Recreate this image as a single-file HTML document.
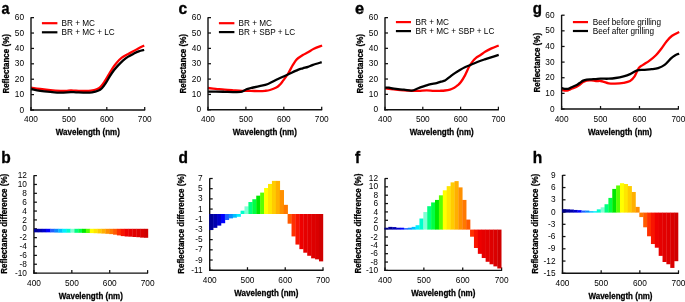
<!DOCTYPE html><html><head><meta charset="utf-8"><style>html,body{margin:0;padding:0;background:#fff;}svg{display:block;will-change:transform;}text{font-family:"Liberation Sans", sans-serif;fill:#000;}</style></head><body>
<svg width="685" height="302" viewBox="0 0 685 302">
<rect width="685" height="302" fill="#fff"/>
<path d="M31.00 87.70 C32.53 87.92 36.97 88.58 40.20 89.00 C43.43 89.42 47.00 89.88 50.40 90.20 C53.80 90.52 58.00 90.78 60.60 90.90 C63.20 91.02 64.28 90.97 66.00 90.90 C67.72 90.83 69.23 90.53 70.90 90.50 C72.57 90.47 73.45 90.62 76.00 90.70 C78.55 90.78 83.70 91.02 86.20 91.00 C88.70 90.98 89.27 90.90 91.00 90.60 C92.73 90.30 95.00 89.83 96.60 89.20 C98.20 88.57 99.27 88.08 100.60 86.80 C101.93 85.52 103.27 83.48 104.60 81.50 C105.93 79.52 107.28 77.10 108.60 74.90 C109.92 72.70 111.18 70.28 112.50 68.30 C113.82 66.32 114.95 64.77 116.50 63.00 C118.05 61.23 119.92 59.17 121.80 57.70 C123.68 56.23 125.88 55.27 127.80 54.20 C129.72 53.13 131.48 52.30 133.30 51.30 C135.12 50.30 136.88 49.17 138.70 48.20 C140.52 47.23 143.28 45.95 144.20 45.50" fill="none" stroke="#ff0000" stroke-width="2.30" stroke-linejoin="round" stroke-linecap="butt"/>
<path d="M31.00 89.00 C32.53 89.30 36.97 90.32 40.20 90.80 C43.43 91.28 47.00 91.60 50.40 91.90 C53.80 92.20 57.18 92.57 60.60 92.60 C64.02 92.63 68.33 92.15 70.90 92.10 C73.47 92.05 73.45 92.22 76.00 92.30 C78.55 92.38 83.53 92.60 86.20 92.60 C88.87 92.60 90.03 92.60 92.00 92.30 C93.97 92.00 96.35 91.48 98.00 90.80 C99.65 90.12 100.58 89.52 101.90 88.20 C103.22 86.88 104.57 84.90 105.90 82.90 C107.23 80.90 108.57 78.30 109.90 76.20 C111.23 74.10 112.57 72.07 113.90 70.30 C115.23 68.53 116.35 67.27 117.90 65.60 C119.45 63.93 121.55 61.75 123.20 60.30 C124.85 58.85 126.12 57.97 127.80 56.90 C129.48 55.83 131.48 54.82 133.30 53.90 C135.12 52.98 136.88 52.05 138.70 51.40 C140.52 50.75 143.28 50.23 144.20 50.00" fill="none" stroke="#000000" stroke-width="2.30" stroke-linejoin="round" stroke-linecap="butt"/>
<line x1="31.00" y1="17.35" x2="31.00" y2="110.70" stroke="#111" stroke-width="1.40"/>
<line x1="30.30" y1="110.00" x2="145.20" y2="110.00" stroke="#111" stroke-width="1.40"/>
<line x1="31.00" y1="17.65" x2="34.00" y2="17.65" stroke="#111" stroke-width="1.25"/>
<text x="24.00" y="20.25" text-anchor="end" font-size="8.3">60</text>
<line x1="31.00" y1="33.04" x2="34.00" y2="33.04" stroke="#111" stroke-width="1.25"/>
<text x="24.00" y="35.64" text-anchor="end" font-size="8.3">50</text>
<line x1="31.00" y1="48.43" x2="34.00" y2="48.43" stroke="#111" stroke-width="1.25"/>
<text x="24.00" y="51.03" text-anchor="end" font-size="8.3">40</text>
<line x1="31.00" y1="63.82" x2="34.00" y2="63.82" stroke="#111" stroke-width="1.25"/>
<text x="24.00" y="66.42" text-anchor="end" font-size="8.3">30</text>
<line x1="31.00" y1="79.22" x2="34.00" y2="79.22" stroke="#111" stroke-width="1.25"/>
<text x="24.00" y="81.82" text-anchor="end" font-size="8.3">20</text>
<line x1="31.00" y1="94.61" x2="34.00" y2="94.61" stroke="#111" stroke-width="1.25"/>
<text x="24.00" y="97.21" text-anchor="end" font-size="8.3">10</text>
<line x1="31.00" y1="110.00" x2="34.00" y2="110.00" stroke="#111" stroke-width="1.25"/>
<text x="24.00" y="112.60" text-anchor="end" font-size="8.3">0</text>
<line x1="31.00" y1="110.00" x2="31.00" y2="107.00" stroke="#111" stroke-width="1.25"/>
<text x="31.00" y="121.90" text-anchor="middle" font-size="8.3">400</text>
<line x1="68.90" y1="110.00" x2="68.90" y2="107.00" stroke="#111" stroke-width="1.25"/>
<text x="68.90" y="121.90" text-anchor="middle" font-size="8.3">500</text>
<line x1="106.80" y1="110.00" x2="106.80" y2="107.00" stroke="#111" stroke-width="1.25"/>
<text x="106.80" y="121.90" text-anchor="middle" font-size="8.3">600</text>
<line x1="144.70" y1="110.00" x2="144.70" y2="107.00" stroke="#111" stroke-width="1.25"/>
<text x="144.70" y="121.90" text-anchor="middle" font-size="8.3">700</text>
<text transform="translate(87.85 135.00) scale(1 1.050)" text-anchor="middle" font-size="8" font-weight="bold" stroke="#000" stroke-width="0.25">Wavelength (nm)</text>
<text transform="translate(9.40 63.85) rotate(-90) scale(1 1.120)" x="0" y="0" text-anchor="middle" font-size="8" font-weight="bold" stroke="#000" stroke-width="0.25">Reflectance (%)</text>
<text transform="translate(1.50 13.60) scale(0.900 1)" font-size="16.0" font-weight="bold" stroke="#000" stroke-width="0.35">a</text>
<line x1="41.90" y1="23.20" x2="57.40" y2="23.20" stroke="#ff0000" stroke-width="2.2"/>
<line x1="41.90" y1="32.30" x2="57.40" y2="32.30" stroke="#000" stroke-width="2.2"/>
<text x="61.50" y="25.90" font-size="8.2">BR + MC</text>
<text x="61.50" y="35.00" font-size="8.2">BR + MC + LC</text>
<path d="M207.90 88.00 C209.22 88.13 213.03 88.52 215.80 88.80 C218.57 89.08 221.58 89.45 224.50 89.70 C227.42 89.95 230.38 90.12 233.30 90.30 C236.22 90.48 239.08 90.70 242.00 90.80 C244.92 90.90 247.88 90.85 250.80 90.90 C253.72 90.95 257.13 91.12 259.50 91.10 C261.87 91.08 263.25 90.98 265.00 90.80 C266.75 90.62 268.12 90.53 270.00 90.00 C271.88 89.47 274.67 88.47 276.30 87.60 C277.93 86.73 278.70 85.92 279.80 84.80 C280.90 83.68 281.55 82.70 282.90 80.90 C284.25 79.10 286.23 76.67 287.90 74.00 C289.57 71.33 291.38 67.38 292.90 64.90 C294.42 62.42 295.35 60.75 297.00 59.10 C298.65 57.45 300.97 56.13 302.80 55.00 C304.63 53.87 306.15 53.33 308.00 52.30 C309.85 51.27 311.55 49.93 313.90 48.80 C316.25 47.67 320.73 46.05 322.10 45.50" fill="none" stroke="#ff0000" stroke-width="2.30" stroke-linejoin="round" stroke-linecap="butt"/>
<path d="M207.90 91.60 C209.22 91.60 213.03 91.57 215.80 91.60 C218.57 91.63 221.58 91.72 224.50 91.80 C227.42 91.88 230.38 92.13 233.30 92.10 C236.22 92.07 239.82 92.08 242.00 91.60 C244.18 91.12 244.93 89.80 246.40 89.20 C247.87 88.60 248.62 88.50 250.80 88.00 C252.98 87.50 256.63 86.87 259.50 86.20 C262.37 85.53 264.92 85.20 268.00 84.00 C271.08 82.80 274.68 80.58 278.00 79.00 C281.32 77.42 284.58 76.02 287.90 74.50 C291.22 72.98 295.42 70.93 297.90 69.90 C300.38 68.87 301.12 68.82 302.80 68.30 C304.48 67.78 306.30 67.37 308.00 66.80 C309.70 66.23 310.72 65.67 313.00 64.90 C315.28 64.13 320.25 62.65 321.70 62.20" fill="none" stroke="#000000" stroke-width="2.30" stroke-linejoin="round" stroke-linecap="butt"/>
<line x1="208.00" y1="17.35" x2="208.00" y2="110.50" stroke="#111" stroke-width="1.40"/>
<line x1="207.30" y1="109.80" x2="322.20" y2="109.80" stroke="#111" stroke-width="1.40"/>
<line x1="208.00" y1="17.65" x2="211.00" y2="17.65" stroke="#111" stroke-width="1.25"/>
<text x="201.00" y="20.25" text-anchor="end" font-size="8.3">60</text>
<line x1="208.00" y1="33.01" x2="211.00" y2="33.01" stroke="#111" stroke-width="1.25"/>
<text x="201.00" y="35.61" text-anchor="end" font-size="8.3">50</text>
<line x1="208.00" y1="48.37" x2="211.00" y2="48.37" stroke="#111" stroke-width="1.25"/>
<text x="201.00" y="50.97" text-anchor="end" font-size="8.3">40</text>
<line x1="208.00" y1="63.73" x2="211.00" y2="63.73" stroke="#111" stroke-width="1.25"/>
<text x="201.00" y="66.33" text-anchor="end" font-size="8.3">30</text>
<line x1="208.00" y1="79.08" x2="211.00" y2="79.08" stroke="#111" stroke-width="1.25"/>
<text x="201.00" y="81.68" text-anchor="end" font-size="8.3">20</text>
<line x1="208.00" y1="94.44" x2="211.00" y2="94.44" stroke="#111" stroke-width="1.25"/>
<text x="201.00" y="97.04" text-anchor="end" font-size="8.3">10</text>
<line x1="208.00" y1="109.80" x2="211.00" y2="109.80" stroke="#111" stroke-width="1.25"/>
<text x="201.00" y="112.40" text-anchor="end" font-size="8.3">0</text>
<line x1="208.00" y1="109.80" x2="208.00" y2="106.80" stroke="#111" stroke-width="1.25"/>
<text x="208.00" y="121.80" text-anchor="middle" font-size="8.3">400</text>
<line x1="245.90" y1="109.80" x2="245.90" y2="106.80" stroke="#111" stroke-width="1.25"/>
<text x="245.90" y="121.80" text-anchor="middle" font-size="8.3">500</text>
<line x1="283.80" y1="109.80" x2="283.80" y2="106.80" stroke="#111" stroke-width="1.25"/>
<text x="283.80" y="121.80" text-anchor="middle" font-size="8.3">600</text>
<line x1="321.70" y1="109.80" x2="321.70" y2="106.80" stroke="#111" stroke-width="1.25"/>
<text x="321.70" y="121.80" text-anchor="middle" font-size="8.3">700</text>
<text transform="translate(264.85 134.90) scale(1 1.050)" text-anchor="middle" font-size="8" font-weight="bold" stroke="#000" stroke-width="0.25">Wavelength (nm)</text>
<text transform="translate(185.90 63.80) rotate(-90) scale(1 1.120)" x="0" y="0" text-anchor="middle" font-size="8" font-weight="bold" stroke="#000" stroke-width="0.25">Reflectance (%)</text>
<text transform="translate(178.40 13.60) scale(0.970 1)" font-size="16.0" font-weight="bold" stroke="#000" stroke-width="0.35">c</text>
<line x1="218.90" y1="23.20" x2="234.40" y2="23.20" stroke="#ff0000" stroke-width="2.2"/>
<line x1="218.90" y1="32.10" x2="234.40" y2="32.10" stroke="#000" stroke-width="2.2"/>
<text x="238.50" y="25.90" font-size="8.2">BR + MC</text>
<text x="238.50" y="34.80" font-size="8.2">BR + SBP + LC</text>
<path d="M385.00 88.40 C386.48 88.57 390.75 89.07 393.90 89.40 C397.05 89.73 400.92 90.15 403.90 90.40 C406.88 90.65 409.32 90.82 411.80 90.90 C414.28 90.98 416.32 90.98 418.80 90.90 C421.28 90.82 424.22 90.40 426.70 90.40 C429.18 90.40 431.48 90.83 433.70 90.90 C435.92 90.97 438.12 90.87 440.00 90.80 C441.88 90.73 443.33 90.70 445.00 90.50 C446.67 90.30 448.45 90.05 450.00 89.60 C451.55 89.15 453.00 88.53 454.30 87.80 C455.60 87.07 456.70 86.17 457.80 85.20 C458.90 84.23 459.70 83.63 460.90 82.00 C462.10 80.37 463.62 77.98 465.00 75.40 C466.38 72.82 467.95 68.80 469.20 66.50 C470.45 64.20 471.27 63.12 472.50 61.60 C473.73 60.08 475.27 58.50 476.60 57.40 C477.93 56.30 479.02 55.97 480.50 55.00 C481.98 54.03 483.67 52.70 485.50 51.60 C487.33 50.50 489.30 49.42 491.50 48.40 C493.70 47.38 497.50 45.98 498.70 45.50" fill="none" stroke="#ff0000" stroke-width="2.30" stroke-linejoin="round" stroke-linecap="butt"/>
<path d="M385.00 87.70 C385.67 87.70 387.52 87.53 389.00 87.70 C390.48 87.87 391.42 88.37 393.90 88.70 C396.38 89.03 400.92 89.38 403.90 89.70 C406.88 90.02 409.32 90.88 411.80 90.60 C414.28 90.32 415.98 89.00 418.80 88.00 C421.62 87.00 425.73 85.42 428.70 84.60 C431.67 83.78 434.55 83.60 436.60 83.10 C438.65 82.60 439.60 82.03 441.00 81.60 C442.40 81.17 443.52 81.30 445.00 80.50 C446.48 79.70 448.25 78.03 449.90 76.80 C451.55 75.57 453.23 74.25 454.90 73.10 C456.57 71.95 458.23 70.88 459.90 69.90 C461.57 68.92 462.97 68.10 464.90 67.20 C466.83 66.30 469.32 65.40 471.50 64.50 C473.68 63.60 475.80 62.65 478.00 61.80 C480.20 60.95 482.53 60.15 484.70 59.40 C486.87 58.65 488.67 58.05 491.00 57.30 C493.33 56.55 497.42 55.30 498.70 54.90" fill="none" stroke="#000000" stroke-width="2.30" stroke-linejoin="round" stroke-linecap="butt"/>
<line x1="385.00" y1="17.35" x2="385.00" y2="110.40" stroke="#111" stroke-width="1.40"/>
<line x1="384.30" y1="109.70" x2="498.90" y2="109.70" stroke="#111" stroke-width="1.40"/>
<line x1="385.00" y1="17.65" x2="388.00" y2="17.65" stroke="#111" stroke-width="1.25"/>
<text x="378.00" y="20.25" text-anchor="end" font-size="8.3">60</text>
<line x1="385.00" y1="32.99" x2="388.00" y2="32.99" stroke="#111" stroke-width="1.25"/>
<text x="378.00" y="35.59" text-anchor="end" font-size="8.3">50</text>
<line x1="385.00" y1="48.33" x2="388.00" y2="48.33" stroke="#111" stroke-width="1.25"/>
<text x="378.00" y="50.93" text-anchor="end" font-size="8.3">40</text>
<line x1="385.00" y1="63.68" x2="388.00" y2="63.68" stroke="#111" stroke-width="1.25"/>
<text x="378.00" y="66.28" text-anchor="end" font-size="8.3">30</text>
<line x1="385.00" y1="79.02" x2="388.00" y2="79.02" stroke="#111" stroke-width="1.25"/>
<text x="378.00" y="81.62" text-anchor="end" font-size="8.3">20</text>
<line x1="385.00" y1="94.36" x2="388.00" y2="94.36" stroke="#111" stroke-width="1.25"/>
<text x="378.00" y="96.96" text-anchor="end" font-size="8.3">10</text>
<line x1="385.00" y1="109.70" x2="388.00" y2="109.70" stroke="#111" stroke-width="1.25"/>
<text x="378.00" y="112.30" text-anchor="end" font-size="8.3">0</text>
<line x1="385.00" y1="109.70" x2="385.00" y2="106.70" stroke="#111" stroke-width="1.25"/>
<text x="385.00" y="121.70" text-anchor="middle" font-size="8.3">400</text>
<line x1="422.80" y1="109.70" x2="422.80" y2="106.70" stroke="#111" stroke-width="1.25"/>
<text x="422.80" y="121.70" text-anchor="middle" font-size="8.3">500</text>
<line x1="460.60" y1="109.70" x2="460.60" y2="106.70" stroke="#111" stroke-width="1.25"/>
<text x="460.60" y="121.70" text-anchor="middle" font-size="8.3">600</text>
<line x1="498.40" y1="109.70" x2="498.40" y2="106.70" stroke="#111" stroke-width="1.25"/>
<text x="498.40" y="121.70" text-anchor="middle" font-size="8.3">700</text>
<text transform="translate(441.70 134.80) scale(1 1.050)" text-anchor="middle" font-size="8" font-weight="bold" stroke="#000" stroke-width="0.25">Wavelength (nm)</text>
<text transform="translate(362.90 63.80) rotate(-90) scale(1 1.120)" x="0" y="0" text-anchor="middle" font-size="8" font-weight="bold" stroke="#000" stroke-width="0.25">Reflectance (%)</text>
<text transform="translate(355.00 13.70) scale(1.020 1)" font-size="16.0" font-weight="bold" stroke="#000" stroke-width="0.35">e</text>
<line x1="395.90" y1="22.10" x2="411.00" y2="22.10" stroke="#ff0000" stroke-width="2.2"/>
<line x1="395.90" y1="31.10" x2="411.00" y2="31.10" stroke="#000" stroke-width="2.2"/>
<text x="415.50" y="24.80" font-size="8.2">BR + MC</text>
<text x="415.50" y="33.80" font-size="8.2">BR + MC + SBP + LC</text>
<path d="M561.20 89.90 C561.77 90.00 563.45 90.43 564.60 90.50 C565.75 90.57 566.93 90.58 568.10 90.30 C569.27 90.02 570.25 89.35 571.60 88.80 C572.95 88.25 574.85 87.68 576.20 87.00 C577.55 86.32 578.53 85.52 579.70 84.70 C580.87 83.88 582.03 82.78 583.20 82.10 C584.37 81.42 585.35 80.88 586.70 80.60 C588.05 80.32 589.77 80.33 591.30 80.40 C592.83 80.47 594.35 80.90 595.90 81.00 C597.45 81.10 599.25 80.87 600.60 81.00 C601.95 81.13 602.65 81.42 604.00 81.80 C605.35 82.18 606.87 83.00 608.70 83.30 C610.53 83.60 612.52 83.68 615.00 83.60 C617.48 83.52 621.08 83.23 623.60 82.80 C626.12 82.37 628.30 82.02 630.10 81.00 C631.90 79.98 632.97 78.85 634.40 76.70 C635.83 74.55 637.27 70.07 638.70 68.10 C640.13 66.13 641.20 66.15 643.00 64.90 C644.80 63.65 647.35 62.22 649.50 60.60 C651.65 58.98 653.93 57.18 655.90 55.20 C657.87 53.22 659.50 51.03 661.30 48.70 C663.10 46.37 664.90 43.35 666.70 41.20 C668.50 39.05 670.02 37.32 672.10 35.80 C674.18 34.28 678.02 32.72 679.20 32.10" fill="none" stroke="#ff0000" stroke-width="2.30" stroke-linejoin="round" stroke-linecap="butt"/>
<path d="M561.20 87.90 C561.77 88.05 563.45 88.65 564.60 88.80 C565.75 88.95 566.93 89.07 568.10 88.80 C569.27 88.53 570.25 87.78 571.60 87.20 C572.95 86.62 574.85 86.00 576.20 85.30 C577.55 84.60 578.53 83.78 579.70 83.00 C580.87 82.22 582.03 81.17 583.20 80.60 C584.37 80.03 585.35 79.82 586.70 79.60 C588.05 79.38 589.77 79.38 591.30 79.30 C592.83 79.22 594.35 79.20 595.90 79.10 C597.45 79.00 598.47 78.77 600.60 78.70 C602.73 78.63 606.20 78.82 608.70 78.70 C611.20 78.58 613.12 78.40 615.60 78.00 C618.08 77.60 621.18 76.95 623.60 76.30 C626.02 75.65 627.93 75.03 630.10 74.10 C632.27 73.17 634.45 71.42 636.60 70.70 C638.75 69.98 640.50 70.05 643.00 69.80 C645.50 69.55 649.08 69.48 651.60 69.20 C654.12 68.92 655.93 68.82 658.10 68.10 C660.27 67.38 662.45 66.52 664.60 64.90 C666.75 63.28 669.22 60.02 671.00 58.40 C672.78 56.78 673.93 55.98 675.30 55.20 C676.67 54.42 678.55 53.95 679.20 53.70" fill="none" stroke="#000000" stroke-width="2.30" stroke-linejoin="round" stroke-linecap="butt"/>
<line x1="561.60" y1="14.90" x2="561.60" y2="109.70" stroke="#111" stroke-width="1.40"/>
<line x1="560.90" y1="109.00" x2="678.90" y2="109.00" stroke="#111" stroke-width="1.40"/>
<line x1="561.60" y1="15.20" x2="564.60" y2="15.20" stroke="#111" stroke-width="1.25"/>
<text x="554.60" y="17.80" text-anchor="end" font-size="8.3">60</text>
<line x1="561.60" y1="30.83" x2="564.60" y2="30.83" stroke="#111" stroke-width="1.25"/>
<text x="554.60" y="33.43" text-anchor="end" font-size="8.3">50</text>
<line x1="561.60" y1="46.47" x2="564.60" y2="46.47" stroke="#111" stroke-width="1.25"/>
<text x="554.60" y="49.07" text-anchor="end" font-size="8.3">40</text>
<line x1="561.60" y1="62.10" x2="564.60" y2="62.10" stroke="#111" stroke-width="1.25"/>
<text x="554.60" y="64.70" text-anchor="end" font-size="8.3">30</text>
<line x1="561.60" y1="77.73" x2="564.60" y2="77.73" stroke="#111" stroke-width="1.25"/>
<text x="554.60" y="80.33" text-anchor="end" font-size="8.3">20</text>
<line x1="561.60" y1="93.37" x2="564.60" y2="93.37" stroke="#111" stroke-width="1.25"/>
<text x="554.60" y="95.97" text-anchor="end" font-size="8.3">10</text>
<line x1="561.60" y1="109.00" x2="564.60" y2="109.00" stroke="#111" stroke-width="1.25"/>
<text x="554.60" y="111.60" text-anchor="end" font-size="8.3">0</text>
<line x1="561.60" y1="109.00" x2="561.60" y2="106.00" stroke="#111" stroke-width="1.25"/>
<text x="561.60" y="121.50" text-anchor="middle" font-size="8.3">400</text>
<line x1="600.53" y1="109.00" x2="600.53" y2="106.00" stroke="#111" stroke-width="1.25"/>
<text x="600.53" y="121.50" text-anchor="middle" font-size="8.3">500</text>
<line x1="639.47" y1="109.00" x2="639.47" y2="106.00" stroke="#111" stroke-width="1.25"/>
<text x="639.47" y="121.50" text-anchor="middle" font-size="8.3">600</text>
<line x1="678.40" y1="109.00" x2="678.40" y2="106.00" stroke="#111" stroke-width="1.25"/>
<text x="678.40" y="121.50" text-anchor="middle" font-size="8.3">700</text>
<text transform="translate(620.00 134.60) scale(1 1.050)" text-anchor="middle" font-size="8" font-weight="bold" stroke="#000" stroke-width="0.25">Wavelength (nm)</text>
<text transform="translate(540.00 62.70) rotate(-90) scale(1 1.120)" x="0" y="0" text-anchor="middle" font-size="8" font-weight="bold" stroke="#000" stroke-width="0.25">Reflectance (%)</text>
<text transform="translate(532.80 14.40) scale(0.900 1)" font-size="16.8" font-weight="bold" stroke="#000" stroke-width="0.35">g</text>
<line x1="572.90" y1="22.10" x2="588.00" y2="22.10" stroke="#ff0000" stroke-width="2.2"/>
<line x1="572.90" y1="31.00" x2="588.00" y2="31.00" stroke="#000" stroke-width="2.2"/>
<text x="592.70" y="24.80" font-size="8.2">Beef before grilling</text>
<text x="592.70" y="33.70" font-size="8.2">Beef after grilling</text>
<line x1="33.95" y1="175.30" x2="33.95" y2="273.80" stroke="#111" stroke-width="1.40"/>
<line x1="33.25" y1="273.10" x2="148.10" y2="273.10" stroke="#111" stroke-width="1.40"/>
<line x1="33.95" y1="175.60" x2="36.95" y2="175.60" stroke="#111" stroke-width="1.25"/>
<text x="26.95" y="178.20" text-anchor="end" font-size="8.3">12</text>
<line x1="33.95" y1="184.46" x2="36.95" y2="184.46" stroke="#111" stroke-width="1.25"/>
<text x="26.95" y="187.06" text-anchor="end" font-size="8.3">10</text>
<line x1="33.95" y1="193.33" x2="36.95" y2="193.33" stroke="#111" stroke-width="1.25"/>
<text x="26.95" y="195.93" text-anchor="end" font-size="8.3">8</text>
<line x1="33.95" y1="202.19" x2="36.95" y2="202.19" stroke="#111" stroke-width="1.25"/>
<text x="26.95" y="204.79" text-anchor="end" font-size="8.3">6</text>
<line x1="33.95" y1="211.05" x2="36.95" y2="211.05" stroke="#111" stroke-width="1.25"/>
<text x="26.95" y="213.65" text-anchor="end" font-size="8.3">4</text>
<line x1="33.95" y1="219.92" x2="36.95" y2="219.92" stroke="#111" stroke-width="1.25"/>
<text x="26.95" y="222.52" text-anchor="end" font-size="8.3">2</text>
<line x1="33.95" y1="228.78" x2="36.95" y2="228.78" stroke="#111" stroke-width="1.25"/>
<text x="26.95" y="231.38" text-anchor="end" font-size="8.3">0</text>
<line x1="33.95" y1="237.65" x2="36.95" y2="237.65" stroke="#111" stroke-width="1.25"/>
<text x="26.95" y="240.25" text-anchor="end" font-size="8.3">-2</text>
<line x1="33.95" y1="246.51" x2="36.95" y2="246.51" stroke="#111" stroke-width="1.25"/>
<text x="26.95" y="249.11" text-anchor="end" font-size="8.3">-4</text>
<line x1="33.95" y1="255.37" x2="36.95" y2="255.37" stroke="#111" stroke-width="1.25"/>
<text x="26.95" y="257.97" text-anchor="end" font-size="8.3">-6</text>
<line x1="33.95" y1="264.24" x2="36.95" y2="264.24" stroke="#111" stroke-width="1.25"/>
<text x="26.95" y="266.84" text-anchor="end" font-size="8.3">-8</text>
<line x1="33.95" y1="273.10" x2="36.95" y2="273.10" stroke="#111" stroke-width="1.25"/>
<text x="26.95" y="275.70" text-anchor="end" font-size="8.3">-10</text>
<line x1="33.95" y1="273.10" x2="33.95" y2="270.10" stroke="#111" stroke-width="1.25"/>
<text x="33.95" y="285.80" text-anchor="middle" font-size="8.3">400</text>
<line x1="71.83" y1="273.10" x2="71.83" y2="270.10" stroke="#111" stroke-width="1.25"/>
<text x="71.83" y="285.80" text-anchor="middle" font-size="8.3">500</text>
<line x1="109.72" y1="273.10" x2="109.72" y2="270.10" stroke="#111" stroke-width="1.25"/>
<text x="109.72" y="285.80" text-anchor="middle" font-size="8.3">600</text>
<line x1="147.60" y1="273.10" x2="147.60" y2="270.10" stroke="#111" stroke-width="1.25"/>
<text x="147.60" y="285.80" text-anchor="middle" font-size="8.3">700</text>
<text transform="translate(90.78 298.80) scale(1 1.050)" text-anchor="middle" font-size="8" font-weight="bold" stroke="#000" stroke-width="0.25">Wavelength (nm)</text>
<text transform="translate(6.60 223.75) rotate(-90) scale(1 1.120)" x="0" y="0" text-anchor="middle" font-size="8" font-weight="bold" stroke="#000" stroke-width="0.25">Reflectance difference (%)</text>
<rect x="34.00" y="228.80" width="4.25" height="3.54" fill="#000099"/>
<rect x="37.95" y="228.80" width="4.25" height="3.54" fill="#0000b0"/>
<rect x="41.90" y="228.80" width="4.30" height="3.54" fill="#0000cc"/>
<rect x="45.90" y="228.80" width="4.80" height="3.54" fill="#0000ff"/>
<rect x="50.40" y="228.80" width="4.50" height="3.63" fill="#2060ff"/>
<rect x="54.60" y="228.80" width="4.10" height="3.77" fill="#0a8cff"/>
<rect x="58.40" y="228.80" width="4.40" height="3.90" fill="#00c0ff"/>
<rect x="62.50" y="228.80" width="4.40" height="3.90" fill="#00f0ff"/>
<rect x="66.60" y="228.80" width="4.20" height="3.90" fill="#00ffcc"/>
<rect x="70.50" y="228.80" width="4.20" height="3.90" fill="#80ffd4"/>
<rect x="74.40" y="228.80" width="4.20" height="3.99" fill="#00ff80"/>
<rect x="78.30" y="228.80" width="4.00" height="3.99" fill="#00ff44"/>
<rect x="82.00" y="228.80" width="4.20" height="4.08" fill="#00e800"/>
<rect x="85.90" y="228.80" width="4.20" height="4.21" fill="#5aff00"/>
<rect x="89.80" y="228.80" width="4.17" height="4.30" fill="#ffff00"/>
<rect x="93.67" y="228.80" width="4.17" height="4.43" fill="#ffe600"/>
<rect x="97.55" y="228.80" width="4.17" height="4.61" fill="#ffcc00"/>
<rect x="101.42" y="228.80" width="4.17" height="4.78" fill="#ffb000"/>
<rect x="105.29" y="228.80" width="4.17" height="5.01" fill="#ff9000"/>
<rect x="109.16" y="228.80" width="4.17" height="5.32" fill="#ff7800"/>
<rect x="113.04" y="228.80" width="4.17" height="5.89" fill="#ff5a00"/>
<rect x="116.91" y="228.80" width="4.17" height="6.60" fill="#ff3000"/>
<rect x="120.78" y="228.80" width="4.17" height="7.31" fill="#f81400"/>
<rect x="124.66" y="228.80" width="4.17" height="7.71" fill="#ee0000"/>
<rect x="128.53" y="228.80" width="4.17" height="7.89" fill="#e60000"/>
<rect x="132.40" y="228.80" width="4.17" height="8.20" fill="#e20000"/>
<rect x="136.28" y="228.80" width="4.17" height="8.42" fill="#de0000"/>
<rect x="140.15" y="228.80" width="4.17" height="8.82" fill="#da0000"/>
<rect x="144.02" y="228.80" width="4.17" height="8.99" fill="#d00000"/>
<text transform="translate(1.20 163.20) scale(0.970 1)" font-size="16.0" font-weight="bold" stroke="#000" stroke-width="0.35">b</text>
<line x1="209.70" y1="178.20" x2="209.70" y2="270.90" stroke="#111" stroke-width="1.40"/>
<line x1="209.00" y1="270.20" x2="323.50" y2="270.20" stroke="#111" stroke-width="1.40"/>
<line x1="209.70" y1="178.50" x2="212.70" y2="178.50" stroke="#111" stroke-width="1.25"/>
<text x="202.70" y="181.10" text-anchor="end" font-size="8.3">7</text>
<line x1="209.70" y1="188.69" x2="212.70" y2="188.69" stroke="#111" stroke-width="1.25"/>
<text x="202.70" y="191.29" text-anchor="end" font-size="8.3">5</text>
<line x1="209.70" y1="198.88" x2="212.70" y2="198.88" stroke="#111" stroke-width="1.25"/>
<text x="202.70" y="201.48" text-anchor="end" font-size="8.3">3</text>
<line x1="209.70" y1="209.07" x2="212.70" y2="209.07" stroke="#111" stroke-width="1.25"/>
<text x="202.70" y="211.67" text-anchor="end" font-size="8.3">1</text>
<line x1="209.70" y1="219.26" x2="212.70" y2="219.26" stroke="#111" stroke-width="1.25"/>
<text x="202.70" y="221.86" text-anchor="end" font-size="8.3">-1</text>
<line x1="209.70" y1="229.44" x2="212.70" y2="229.44" stroke="#111" stroke-width="1.25"/>
<text x="202.70" y="232.04" text-anchor="end" font-size="8.3">-3</text>
<line x1="209.70" y1="239.63" x2="212.70" y2="239.63" stroke="#111" stroke-width="1.25"/>
<text x="202.70" y="242.23" text-anchor="end" font-size="8.3">-5</text>
<line x1="209.70" y1="249.82" x2="212.70" y2="249.82" stroke="#111" stroke-width="1.25"/>
<text x="202.70" y="252.42" text-anchor="end" font-size="8.3">-7</text>
<line x1="209.70" y1="260.01" x2="212.70" y2="260.01" stroke="#111" stroke-width="1.25"/>
<text x="202.70" y="262.61" text-anchor="end" font-size="8.3">-9</text>
<line x1="209.70" y1="270.20" x2="212.70" y2="270.20" stroke="#111" stroke-width="1.25"/>
<text x="202.70" y="272.80" text-anchor="end" font-size="8.3">-11</text>
<line x1="209.70" y1="270.20" x2="209.70" y2="267.20" stroke="#111" stroke-width="1.25"/>
<text x="209.70" y="282.90" text-anchor="middle" font-size="8.3">400</text>
<line x1="247.47" y1="270.20" x2="247.47" y2="267.20" stroke="#111" stroke-width="1.25"/>
<text x="247.47" y="282.90" text-anchor="middle" font-size="8.3">500</text>
<line x1="285.23" y1="270.20" x2="285.23" y2="267.20" stroke="#111" stroke-width="1.25"/>
<text x="285.23" y="282.90" text-anchor="middle" font-size="8.3">600</text>
<line x1="323.00" y1="270.20" x2="323.00" y2="267.20" stroke="#111" stroke-width="1.25"/>
<text x="323.00" y="282.90" text-anchor="middle" font-size="8.3">700</text>
<text transform="translate(266.35 295.60) scale(1 1.050)" text-anchor="middle" font-size="8" font-weight="bold" stroke="#000" stroke-width="0.25">Wavelength (nm)</text>
<text transform="translate(183.90 223.80) rotate(-90) scale(1 1.120)" x="0" y="0" text-anchor="middle" font-size="8" font-weight="bold" stroke="#000" stroke-width="0.25">Reflectance difference (%)</text>
<rect x="209.20" y="214.00" width="4.22" height="16.00" fill="#000099"/>
<rect x="213.12" y="214.00" width="4.22" height="13.86" fill="#0000b0"/>
<rect x="217.04" y="214.00" width="4.22" height="11.62" fill="#0000cc"/>
<rect x="220.96" y="214.00" width="4.22" height="9.22" fill="#0000ff"/>
<rect x="224.88" y="214.00" width="4.22" height="6.01" fill="#2060ff"/>
<rect x="228.80" y="214.00" width="4.22" height="4.38" fill="#0a8cff"/>
<rect x="232.72" y="214.00" width="4.22" height="3.67" fill="#00c0ff"/>
<rect x="236.64" y="214.00" width="4.22" height="2.80" fill="#00f0ff"/>
<rect x="240.57" y="210.69" width="4.22" height="3.31" fill="#00ffcc"/>
<rect x="244.49" y="206.36" width="4.22" height="7.64" fill="#80ffd4"/>
<rect x="248.41" y="202.03" width="4.22" height="11.97" fill="#00ff80"/>
<rect x="252.33" y="199.22" width="4.22" height="14.78" fill="#00ff44"/>
<rect x="256.25" y="195.66" width="4.22" height="18.34" fill="#00e800"/>
<rect x="260.17" y="192.60" width="4.22" height="21.40" fill="#5aff00"/>
<rect x="264.09" y="188.02" width="4.22" height="25.98" fill="#ffff00"/>
<rect x="268.01" y="183.94" width="4.22" height="30.06" fill="#ffe600"/>
<rect x="271.93" y="180.88" width="4.22" height="33.12" fill="#ffcc00"/>
<rect x="275.85" y="180.88" width="4.22" height="33.12" fill="#ffb000"/>
<rect x="279.77" y="190.05" width="4.22" height="23.95" fill="#ff9000"/>
<rect x="283.69" y="204.83" width="4.22" height="9.17" fill="#ff7800"/>
<rect x="287.61" y="214.00" width="4.22" height="9.68" fill="#ff5a00"/>
<rect x="291.53" y="214.00" width="4.22" height="22.42" fill="#ff3000"/>
<rect x="295.46" y="214.00" width="4.22" height="30.57" fill="#f81400"/>
<rect x="299.38" y="214.00" width="4.22" height="35.16" fill="#ee0000"/>
<rect x="303.30" y="214.00" width="4.22" height="38.72" fill="#e60000"/>
<rect x="307.22" y="214.00" width="4.22" height="41.78" fill="#e20000"/>
<rect x="311.14" y="214.00" width="4.22" height="44.33" fill="#de0000"/>
<rect x="315.06" y="214.00" width="4.22" height="45.35" fill="#da0000"/>
<rect x="318.98" y="214.00" width="4.22" height="47.38" fill="#d00000"/>
<text transform="translate(178.40 162.90) scale(0.970 1)" font-size="16.0" font-weight="bold" stroke="#000" stroke-width="0.35">d</text>
<line x1="385.00" y1="178.20" x2="385.00" y2="271.10" stroke="#111" stroke-width="1.40"/>
<line x1="384.30" y1="270.40" x2="502.10" y2="270.40" stroke="#111" stroke-width="1.40"/>
<line x1="385.00" y1="178.50" x2="388.00" y2="178.50" stroke="#111" stroke-width="1.25"/>
<text x="378.00" y="181.10" text-anchor="end" font-size="8.3">12</text>
<line x1="385.00" y1="186.85" x2="388.00" y2="186.85" stroke="#111" stroke-width="1.25"/>
<text x="378.00" y="189.45" text-anchor="end" font-size="8.3">10</text>
<line x1="385.00" y1="195.21" x2="388.00" y2="195.21" stroke="#111" stroke-width="1.25"/>
<text x="378.00" y="197.81" text-anchor="end" font-size="8.3">8</text>
<line x1="385.00" y1="203.56" x2="388.00" y2="203.56" stroke="#111" stroke-width="1.25"/>
<text x="378.00" y="206.16" text-anchor="end" font-size="8.3">6</text>
<line x1="385.00" y1="211.92" x2="388.00" y2="211.92" stroke="#111" stroke-width="1.25"/>
<text x="378.00" y="214.52" text-anchor="end" font-size="8.3">4</text>
<line x1="385.00" y1="220.27" x2="388.00" y2="220.27" stroke="#111" stroke-width="1.25"/>
<text x="378.00" y="222.87" text-anchor="end" font-size="8.3">2</text>
<line x1="385.00" y1="228.63" x2="388.00" y2="228.63" stroke="#111" stroke-width="1.25"/>
<text x="378.00" y="231.23" text-anchor="end" font-size="8.3">0</text>
<line x1="385.00" y1="236.98" x2="388.00" y2="236.98" stroke="#111" stroke-width="1.25"/>
<text x="378.00" y="239.58" text-anchor="end" font-size="8.3">-2</text>
<line x1="385.00" y1="245.34" x2="388.00" y2="245.34" stroke="#111" stroke-width="1.25"/>
<text x="378.00" y="247.94" text-anchor="end" font-size="8.3">-4</text>
<line x1="385.00" y1="253.69" x2="388.00" y2="253.69" stroke="#111" stroke-width="1.25"/>
<text x="378.00" y="256.29" text-anchor="end" font-size="8.3">-6</text>
<line x1="385.00" y1="262.05" x2="388.00" y2="262.05" stroke="#111" stroke-width="1.25"/>
<text x="378.00" y="264.65" text-anchor="end" font-size="8.3">-8</text>
<line x1="385.00" y1="270.40" x2="388.00" y2="270.40" stroke="#111" stroke-width="1.25"/>
<text x="378.00" y="273.00" text-anchor="end" font-size="8.3">-10</text>
<line x1="385.00" y1="270.40" x2="385.00" y2="267.40" stroke="#111" stroke-width="1.25"/>
<text x="385.00" y="282.90" text-anchor="middle" font-size="8.3">400</text>
<line x1="423.87" y1="270.40" x2="423.87" y2="267.40" stroke="#111" stroke-width="1.25"/>
<text x="423.87" y="282.90" text-anchor="middle" font-size="8.3">500</text>
<line x1="462.73" y1="270.40" x2="462.73" y2="267.40" stroke="#111" stroke-width="1.25"/>
<text x="462.73" y="282.90" text-anchor="middle" font-size="8.3">600</text>
<line x1="501.60" y1="270.40" x2="501.60" y2="267.40" stroke="#111" stroke-width="1.25"/>
<text x="501.60" y="282.90" text-anchor="middle" font-size="8.3">700</text>
<text transform="translate(443.30 295.80) scale(1 1.050)" text-anchor="middle" font-size="8" font-weight="bold" stroke="#000" stroke-width="0.25">Wavelength (nm)</text>
<text transform="translate(360.60 223.65) rotate(-90) scale(1 1.120)" x="0" y="0" text-anchor="middle" font-size="8" font-weight="bold" stroke="#000" stroke-width="0.25">Reflectance difference (%)</text>
<rect x="384.40" y="227.72" width="4.19" height="1.88" fill="#000080"/>
<rect x="388.29" y="226.88" width="4.19" height="2.72" fill="#000099"/>
<rect x="392.19" y="227.09" width="4.19" height="2.51" fill="#0000b0"/>
<rect x="396.08" y="227.72" width="4.19" height="1.88" fill="#0000cc"/>
<rect x="399.97" y="227.72" width="4.19" height="1.88" fill="#0000ff"/>
<rect x="403.87" y="228.14" width="4.19" height="1.46" fill="#2060ff"/>
<rect x="407.76" y="227.72" width="4.19" height="1.88" fill="#0a8cff"/>
<rect x="411.65" y="226.88" width="4.19" height="2.72" fill="#00c0ff"/>
<rect x="415.55" y="225.21" width="4.19" height="4.39" fill="#00f0ff"/>
<rect x="419.44" y="218.52" width="4.19" height="11.08" fill="#00ffcc"/>
<rect x="423.33" y="212.04" width="4.19" height="17.56" fill="#80ffd4"/>
<rect x="427.23" y="206.19" width="4.19" height="23.41" fill="#00ff80"/>
<rect x="431.12" y="202.43" width="4.19" height="27.17" fill="#00ff44"/>
<rect x="435.01" y="199.92" width="4.19" height="29.68" fill="#00e800"/>
<rect x="438.91" y="195.32" width="4.19" height="34.28" fill="#5aff00"/>
<rect x="442.80" y="190.31" width="4.19" height="39.29" fill="#ffff00"/>
<rect x="446.69" y="186.13" width="4.19" height="43.47" fill="#ffe600"/>
<rect x="450.59" y="182.37" width="4.19" height="47.23" fill="#ffcc00"/>
<rect x="454.48" y="181.11" width="4.19" height="48.49" fill="#ffb000"/>
<rect x="458.37" y="187.38" width="4.19" height="42.22" fill="#ff9000"/>
<rect x="462.27" y="199.92" width="4.19" height="29.68" fill="#ff7800"/>
<rect x="466.16" y="219.57" width="4.19" height="10.03" fill="#ff5a00"/>
<rect x="470.05" y="229.60" width="4.19" height="7.11" fill="#ff3000"/>
<rect x="473.95" y="229.60" width="4.19" height="18.39" fill="#f81400"/>
<rect x="477.84" y="229.60" width="4.19" height="24.24" fill="#ee0000"/>
<rect x="481.73" y="229.60" width="4.19" height="28.42" fill="#e60000"/>
<rect x="485.63" y="229.60" width="4.19" height="32.19" fill="#e20000"/>
<rect x="489.52" y="229.60" width="4.19" height="34.69" fill="#de0000"/>
<rect x="493.41" y="229.60" width="4.19" height="36.78" fill="#da0000"/>
<rect x="497.31" y="229.60" width="4.19" height="38.87" fill="#d00000"/>
<text transform="translate(355.10 162.90) scale(0.970 1)" font-size="16.0" font-weight="bold" stroke="#000" stroke-width="0.35">f</text>
<line x1="562.50" y1="175.00" x2="562.50" y2="274.00" stroke="#111" stroke-width="1.40"/>
<line x1="561.80" y1="273.30" x2="679.00" y2="273.30" stroke="#111" stroke-width="1.40"/>
<line x1="562.50" y1="175.30" x2="565.50" y2="175.30" stroke="#111" stroke-width="1.25"/>
<text x="555.50" y="177.90" text-anchor="end" font-size="8.3">9</text>
<line x1="562.50" y1="187.55" x2="565.50" y2="187.55" stroke="#111" stroke-width="1.25"/>
<text x="555.50" y="190.15" text-anchor="end" font-size="8.3">6</text>
<line x1="562.50" y1="199.80" x2="565.50" y2="199.80" stroke="#111" stroke-width="1.25"/>
<text x="555.50" y="202.40" text-anchor="end" font-size="8.3">3</text>
<line x1="562.50" y1="212.05" x2="565.50" y2="212.05" stroke="#111" stroke-width="1.25"/>
<text x="555.50" y="214.65" text-anchor="end" font-size="8.3">0</text>
<line x1="562.50" y1="224.30" x2="565.50" y2="224.30" stroke="#111" stroke-width="1.25"/>
<text x="555.50" y="226.90" text-anchor="end" font-size="8.3">-3</text>
<line x1="562.50" y1="236.55" x2="565.50" y2="236.55" stroke="#111" stroke-width="1.25"/>
<text x="555.50" y="239.15" text-anchor="end" font-size="8.3">-6</text>
<line x1="562.50" y1="248.80" x2="565.50" y2="248.80" stroke="#111" stroke-width="1.25"/>
<text x="555.50" y="251.40" text-anchor="end" font-size="8.3">-9</text>
<line x1="562.50" y1="261.05" x2="565.50" y2="261.05" stroke="#111" stroke-width="1.25"/>
<text x="555.50" y="263.65" text-anchor="end" font-size="8.3">-12</text>
<line x1="562.50" y1="273.30" x2="565.50" y2="273.30" stroke="#111" stroke-width="1.25"/>
<text x="555.50" y="275.90" text-anchor="end" font-size="8.3">-15</text>
<line x1="562.50" y1="273.30" x2="562.50" y2="270.30" stroke="#111" stroke-width="1.25"/>
<text x="562.50" y="285.90" text-anchor="middle" font-size="8.3">400</text>
<line x1="601.17" y1="273.30" x2="601.17" y2="270.30" stroke="#111" stroke-width="1.25"/>
<text x="601.17" y="285.90" text-anchor="middle" font-size="8.3">500</text>
<line x1="639.83" y1="273.30" x2="639.83" y2="270.30" stroke="#111" stroke-width="1.25"/>
<text x="639.83" y="285.90" text-anchor="middle" font-size="8.3">600</text>
<line x1="678.50" y1="273.30" x2="678.50" y2="270.30" stroke="#111" stroke-width="1.25"/>
<text x="678.50" y="285.90" text-anchor="middle" font-size="8.3">700</text>
<text transform="translate(620.50 298.80) scale(1 1.050)" text-anchor="middle" font-size="8" font-weight="bold" stroke="#000" stroke-width="0.25">Wavelength (nm)</text>
<text transform="translate(538.00 223.80) rotate(-90) scale(1 1.120)" x="0" y="0" text-anchor="middle" font-size="8" font-weight="bold" stroke="#000" stroke-width="0.25">Reflectance difference (%)</text>
<rect x="562.00" y="209.13" width="4.17" height="3.47" fill="#000080"/>
<rect x="565.87" y="209.33" width="4.17" height="3.27" fill="#000099"/>
<rect x="569.73" y="209.54" width="4.17" height="3.06" fill="#0000b0"/>
<rect x="573.60" y="209.95" width="4.17" height="2.65" fill="#0000cc"/>
<rect x="577.47" y="210.15" width="4.17" height="2.45" fill="#0000ff"/>
<rect x="581.33" y="210.56" width="4.17" height="2.04" fill="#2060ff"/>
<rect x="585.20" y="210.56" width="4.17" height="2.04" fill="#0a8cff"/>
<rect x="589.07" y="211.17" width="4.17" height="1.43" fill="#00c0ff"/>
<rect x="592.93" y="211.17" width="4.17" height="1.43" fill="#00f0ff"/>
<rect x="596.80" y="209.33" width="4.17" height="3.27" fill="#00ffcc"/>
<rect x="600.67" y="207.29" width="4.17" height="5.31" fill="#80ffd4"/>
<rect x="604.53" y="204.23" width="4.17" height="8.37" fill="#00ff80"/>
<rect x="608.40" y="197.90" width="4.17" height="14.70" fill="#00ff44"/>
<rect x="612.27" y="188.92" width="4.17" height="23.68" fill="#00e800"/>
<rect x="616.13" y="185.45" width="4.17" height="27.15" fill="#5aff00"/>
<rect x="620.00" y="183.20" width="4.17" height="29.40" fill="#ffff00"/>
<rect x="623.87" y="184.02" width="4.17" height="28.58" fill="#ffe600"/>
<rect x="627.73" y="186.06" width="4.17" height="26.54" fill="#ffcc00"/>
<rect x="631.60" y="191.98" width="4.17" height="20.62" fill="#ffb000"/>
<rect x="635.47" y="206.88" width="4.17" height="5.72" fill="#ff9000"/>
<rect x="639.33" y="212.60" width="4.17" height="4.49" fill="#ff7800"/>
<rect x="643.20" y="212.60" width="4.17" height="14.70" fill="#ff5a00"/>
<rect x="647.07" y="212.60" width="4.17" height="23.68" fill="#ff3000"/>
<rect x="650.93" y="212.60" width="4.17" height="31.44" fill="#f81400"/>
<rect x="654.80" y="212.60" width="4.17" height="35.11" fill="#ee0000"/>
<rect x="658.67" y="212.60" width="4.17" height="43.28" fill="#e60000"/>
<rect x="662.53" y="212.60" width="4.17" height="49.40" fill="#e20000"/>
<rect x="666.40" y="212.60" width="4.17" height="51.65" fill="#de0000"/>
<rect x="670.27" y="212.60" width="4.17" height="55.32" fill="#da0000"/>
<rect x="674.13" y="212.60" width="4.17" height="48.59" fill="#d00000"/>
<text transform="translate(532.80 162.90) scale(0.970 1)" font-size="16.0" font-weight="bold" stroke="#000" stroke-width="0.35">h</text>
</svg></body></html>
